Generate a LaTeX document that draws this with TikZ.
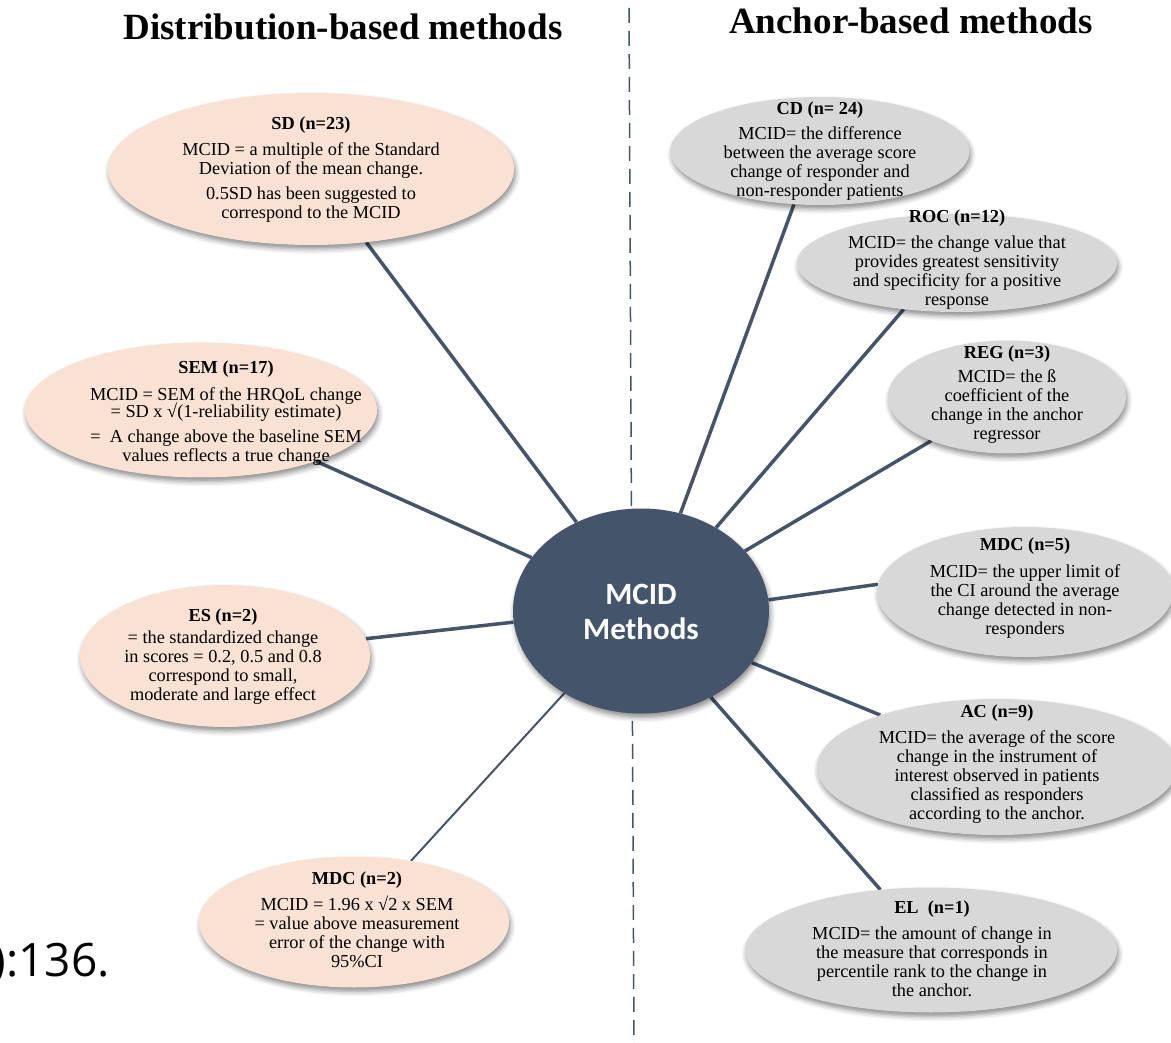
\documentclass[tikz,border=0pt]{standalone}
\usepackage{fontspec}
\setmainfont{Liberation Serif}
\newfontfamily\calfont{Carlito}
\newfontfamily\osfont{Open Sans}
\usetikzlibrary{shapes.geometric,shadows.blur,backgrounds}
\definecolor{slate}{RGB}{68,84,106}
\definecolor{peach}{RGB}{249,226,211}
\definecolor{greyfill}{RGB}{216,216,216}
\begin{document}
\begin{tikzpicture}[x=1pt,y=-1pt,
  oval/.style={ellipse, inner sep=0pt, blur shadow={shadow xshift=1.5pt, shadow yshift=-4pt, shadow blur radius=5pt, shadow opacity=45}},
  peachoval/.style={oval, fill=peach},
  greyoval/.style={oval, fill=greyfill},
  txt/.style={align=center, inner sep=0pt, font=\fontsize{18.3}{19}\selectfont},
  conn/.style={draw=slate, line width=3.5pt},
  thinconn/.style={draw=slate, line width=2pt},
  divider/.style={draw=slate, line width=1.5pt, dash pattern=on 15pt off 8pt},
  title/.style={inner sep=0pt, anchor=base, font=\fontsize{37}{40}\selectfont\bfseries}
  ]
\useasboundingbox (0,0) rectangle (1171,1043);
\clip (0,0) rectangle (1171,1043);

% titles
\node[title] (tleft) at (343,40) {Distribution-based methods};
\node[title] (tright) at (911,34) {Anchor-based methods};

% clipped citation fragment
\node[inner sep=0pt, anchor=base east, font=\osfont\fontsize{46}{50}\selectfont] (cite) at (110,976) {):136.};

% divider end points
\coordinate (dtop) at (629,8);
\coordinate (dbot) at (634,1043);

% central node
\node[ellipse, inner sep=0pt, fill=slate, minimum width=256pt, minimum height=205pt,
      blur shadow={shadow xshift=1.5pt, shadow yshift=-4pt, shadow blur radius=5pt, shadow opacity=45}] (c) at (641,611) {};
\node[inner sep=0pt, align=center, text=white, font=\calfont\bfseries\fontsize{31}{35}\selectfont] (cT) at (641,612) {MCID\\Methods};

% left ovals
\node[peachoval, minimum width=406pt, minimum height=152pt] (sd) at (311,169) {};
\node[txt] (sdT) at (311,170) {{\bfseries SD (n=23)}\\[7pt]MCID = a multiple of the Standard\\Deviation of the mean change.\\[6pt]0.5SD has been suggested to\\correspond to the MCID};

\node[peachoval, minimum width=352pt, minimum height=135pt] (sem) at (201,410) {};
\node[txt] (semT) at (226,413) {{\bfseries SEM (n=17)}\\[8pt]MCID = SEM of the HRQoL change\\[-2pt]= SD x √(1-reliability estimate)\\[6pt]=\ \ A change above the baseline SEM\\values reflects a true change};

\node[peachoval, minimum width=290pt, minimum height=142pt] (es) at (225,656) {};
\node[txt] (esT) at (223,657) {{\bfseries ES (n=2)}\\[3pt]= the standardized change\\in scores = 0.2, 0.5 and 0.8\\correspond to small,\\moderate and large effect};

\node[peachoval, minimum width=310pt, minimum height=131pt] (mdcl) at (354,922) {};
\node[txt] (mdclT) at (357,920) {{\bfseries MDC (n=2)}\\[7pt]MCID = 1.96 x √2 x SEM\\= value above measurement\\error of the change with\\95\%CI};

% right ovals
\node[greyoval, minimum width=299pt, minimum height=108pt] (cd) at (820,151) {};
\node[txt] (cdT) at (820,151) {{\bfseries CD (n= 24)}\\[6pt]MCID= the difference\\between the average score\\change of responder and\\non-responder patients};

\node[greyoval, minimum width=320pt, minimum height=98pt] (roc) at (957,263) {};
\node[txt] (rocT) at (957,260) {{\bfseries ROC (n=12)}\\[7pt]MCID= the change value that\\provides greatest sensitivity\\and specificity for a positive\\response};

\node[greyoval, minimum width=238pt, minimum height=113pt] (reg) at (1007,397) {};
\node[txt] (regT) at (1007,395) {{\bfseries REG (n=3)}\\[5pt]MCID= the ß\\coefficient of the\\change in the anchor\\regressor};

\node[greyoval, minimum width=296pt, minimum height=130pt] (mdcr) at (1025,592) {};
\node[txt] (mdcrT) at (1025,588) {{\bfseries MDC (n=5)}\\[8pt]MCID= the upper limit of\\the CI around the average\\change detected in non-\\responders};

\node[greyoval, minimum width=360pt, minimum height=136pt] (ac) at (997,767) {};
\node[txt] (acT) at (997,764) {{\bfseries AC (n=9)}\\[7pt]MCID= the average of the score\\change in the instrument of\\interest observed in patients\\classified as responders\\according to the anchor.};

\node[greyoval, minimum width=372pt, minimum height=125pt] (el) at (931,950) {};
\node[txt] (elT) at (932,949) {{\bfseries EL\ \ (n=1)}\\[7pt]MCID= the amount of change in\\the measure that corresponds in\\percentile rank to the change in\\the anchor.};

% connectors behind everything
\begin{scope}[on background layer]
\draw[divider] (dtop) -- (dbot);
\draw[conn] (c.126.9) -- (sd.307);
\draw[conn] (c.154.5) -- (sem.336.4);
\draw[conn] (c.185.8) -- (es.7.6);
\draw[thinconn] (c.227.4) -- (mdcl.47.2);
\draw[conn] (c.68.9) -- (cd.244.9);
\draw[conn] (c.48.5) -- (roc.221.1);
\draw[conn] (c.30.7) -- (reg.210);
\draw[conn] (c.5.8) -- (mdcr.177.3);
\draw[conn] (c.335.9) -- (ac.156.4);
\draw[conn] (c.309.6) -- (el.130.5);
\end{scope}
\end{tikzpicture}
\end{document}
